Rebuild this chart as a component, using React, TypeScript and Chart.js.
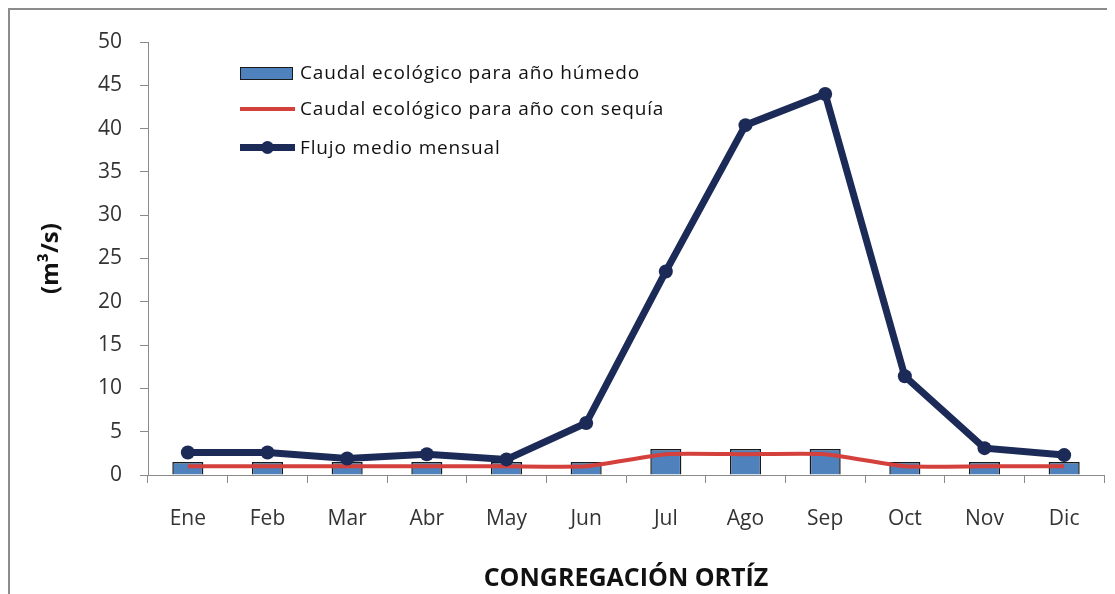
import React, { useEffect, useRef } from "react";
import { Chart, registerables } from "chart.js";

Chart.register(...registerables);

const months = ["Ene", "Feb", "Mar", "Abr", "May", "Jun", "Jul", "Ago", "Sep", "Oct", "Nov", "Dic"];
const humedo = [1.5, 1.5, 1.5, 1.5, 1.5, 1.5, 3.0, 3.0, 3.0, 1.5, 1.5, 1.5];
const sequia = [1.0, 1.0, 1.0, 1.0, 1.0, 1.0, 2.4, 2.4, 2.4, 1.0, 1.0, 1.0];
const flujo = [2.6, 2.6, 1.9, 2.4, 1.8, 6.0, 23.5, 40.4, 44.0, 11.4, 3.1, 2.3];
const legendLabels = [
  "Caudal ecológico para año húmedo",
  "Caudal ecológico para año con sequía",
  "Flujo medio mensual",
];

const FONT = "'Open Sans', 'Liberation Sans', sans-serif";
const BAR = "#4f81bd";
const RED = "#d4403c";
const NAVY = "#1b2a57";

export default function App() {
  const ref = useRef<HTMLCanvasElement | null>(null);

  useEffect(() => {
    if (!ref.current) return;
    const chart = new Chart(ref.current, {
      type: "bar",
      data: {
        labels: months,
        datasets: [
          {
            type: "line",
            label: legendLabels[2],
            data: flujo,
            borderColor: NAVY,
            backgroundColor: NAVY,
            borderWidth: 7,
            pointRadius: 7,
            pointBorderWidth: 0,
            pointBackgroundColor: NAVY,
            tension: 0,
            order: 0,
          },
          {
            type: "line",
            label: legendLabels[1],
            data: sequia,
            borderColor: RED,
            borderWidth: 4,
            pointRadius: 0,
            tension: 0.15,
            order: 1,
          },
          {
            type: "bar",
            label: legendLabels[0],
            data: humedo,
            backgroundColor: BAR,
            borderColor: "#1a1a1a",
            borderWidth: 1.5,
            categoryPercentage: 1,
            barPercentage: 0.39,
            order: 2,
          },
        ],
      },
      options: {
        animation: false,
        responsive: false,
        layout: { padding: { left: 24, top: 32, right: 11, bottom: 0 } },
        plugins: { legend: { display: false }, tooltip: { enabled: false } },
        scales: {
          x: {
            offset: true,
            grid: { display: true, drawOnChartArea: false, offset: true, tickLength: 8, color: "#8a8a8a" },
            border: { color: "#8a8a8a", width: 1 },
            ticks: { color: "#333", font: { family: FONT, size: 21 }, padding: 23 },
            title: {
              display: true,
              text: "CONGREGACIÓN ORTÍZ",
              color: "#111",
              font: { family: FONT, size: 25, weight: "bold" },
              padding: 0,
            },
            afterFit: (s: any) => {
              s.height = 119;
            },
          },
          y: {
            min: 0,
            max: 50,
            ticks: { stepSize: 5, color: "#333", font: { family: FONT, size: 21 }, padding: 18 },
            grid: { drawOnChartArea: false, tickLength: 8, color: "#8a8a8a" },
            border: { color: "#8a8a8a", width: 1 },
            title: {
              display: true,
              text: "(m³/s)",
              color: "#111",
              font: { family: FONT, size: 24, weight: "bold" },
              padding: 3,
            },
            afterFit: (s: any) => {
              s.width = 114;
            },
          },
        },
      },
    });
    return () => chart.destroy();
  }, []);

  const textStyle: React.CSSProperties = {
    position: "absolute",
    left: 290,
    fontFamily: FONT,
    fontSize: 19,
    letterSpacing: "0.85px",
    color: "#111",
    whiteSpace: "nowrap",
    lineHeight: "24px",
  };

  return (
    <div
      style={{
        position: "relative",
        width: 1107,
        height: 586,
        borderTop: "2px solid #8c8c8c",
        borderLeft: "2px solid #8c8c8c",
        boxSizing: "border-box",
        background: "#fff",
      }}
    >
      <canvas ref={ref} width={1105} height={584} style={{ display: "block" }} />
      {/* legend */}
      <div style={{ position: "absolute", left: 230, top: 57, width: 51, height: 11, background: BAR, border: "1.5px solid #1a1a1a" }} />
      <div style={{ ...textStyle, top: 50 }}>{legendLabels[0]}</div>
      <div style={{ position: "absolute", left: 230, top: 97, width: 55, height: 4, background: RED }} />
      <div style={{ ...textStyle, top: 86 }}>{legendLabels[1]}</div>
      <div style={{ position: "absolute", left: 230, top: 134, width: 55, height: 7, background: NAVY }} />
      <div style={{ position: "absolute", left: 251, top: 131, width: 13, height: 13, borderRadius: 7, background: NAVY }} />
      <div style={{ ...textStyle, top: 125 }}>{legendLabels[2]}</div>
    </div>
  );
}
